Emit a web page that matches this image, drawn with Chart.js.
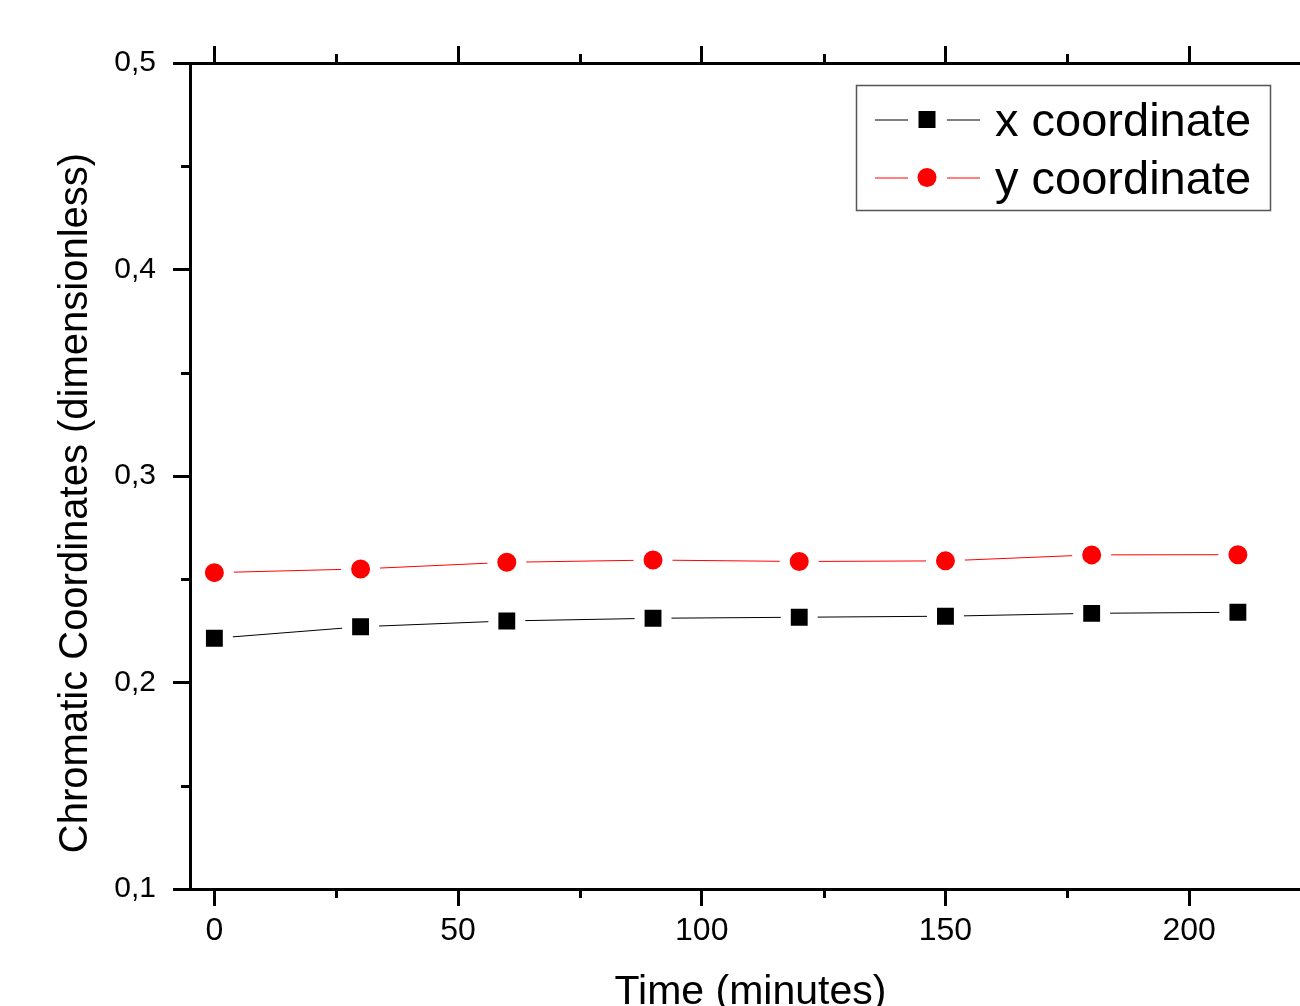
<!DOCTYPE html>
<html>
<head>
<meta charset="utf-8">
<script src="https://cdn.jsdelivr.net/npm/chart.js@4.4.1/dist/chart.umd.min.js"></script>
<style>
    html, body { margin: 0; padding: 0; background: #fff; overflow: hidden; }
    #wrap { width: 1330px; height: 1050px; }
</style>
</head>
<body>
<div id="wrap"><canvas id="chromaChart" width="1330" height="1050"></canvas></div>
<script>
// time in minutes
const times = [0, 30, 60, 90, 120, 150, 180, 210];
const xCoord = [0.2214, 0.2270, 0.2298, 0.2311, 0.2316, 0.2321, 0.2335, 0.2340];
const yCoord = [0.2532, 0.2550, 0.2582, 0.2593, 0.2586, 0.2589, 0.2618, 0.2619];

const seriesLabels = ["x coordinate", "y coordinate"];
const xTitle = "Time (minutes)";
const yTitle = "Chromatic Coordinates (dimensionless)";

const xMinorTicks = [25, 75, 125, 175];
const yMinorTicks = [0.15, 0.25, 0.35, 0.45];

const FONT = "'Liberation Sans', Arial, sans-serif";
Chart.defaults.font.family = FONT;
Chart.defaults.color = '#000';

function toPoints(values) {
    return times.map((t, i) => ({ x: t, y: values[i] }));
}

// short ticks between the labelled ones
const minorTicks = {
    id: 'minorTicks',
    afterDraw(chart) {
        const ctx = chart.ctx;
        const area = chart.chartArea;
        const xs = chart.scales.x;
        const ys = chart.scales.y;
        ctx.save();
        ctx.strokeStyle = '#000';
        ctx.lineWidth = 3;
        ctx.beginPath();
        xMinorTicks.forEach(v => {
            const px = Math.round(xs.getPixelForValue(v)) + 0.5;
            ctx.moveTo(px, area.bottom);
            ctx.lineTo(px, area.bottom + 9);
            ctx.moveTo(px, area.top);
            ctx.lineTo(px, area.top - 9);
        });
        yMinorTicks.forEach(v => {
            const py = Math.round(ys.getPixelForValue(v)) + 0.5;
            ctx.moveTo(area.left - 9, py);
            ctx.lineTo(area.left, py);
        });
        ctx.stroke();
        ctx.restore();
    }
};

// rotated y title, sitting a bit lower than the axis centre like the original
const yAxisTitle = {
    id: 'yAxisTitle',
    afterDraw(chart) {
        const ctx = chart.ctx;
        ctx.save();
        ctx.translate(76, 503);
        ctx.rotate(-Math.PI / 2);
        ctx.font = '40px ' + FONT;
        ctx.fillStyle = '#000';
        ctx.textAlign = 'center';
        ctx.textBaseline = 'middle';
        ctx.fillText(yTitle, 0, 0);
        ctx.restore();
    }
};

// boxed legend: line - marker - line, then the label
const boxLegend = {
    id: 'boxLegend',
    afterDraw(chart) {
        const ctx = chart.ctx;
        ctx.save();
        ctx.fillStyle = '#fff';
        ctx.fillRect(856, 85, 414, 125);
        ctx.strokeStyle = '#555';
        ctx.lineWidth = 1.5;
        ctx.strokeRect(856.5, 85.5, 414, 125);
        const rows = [119.5, 177.5];
        chart.data.datasets.forEach((ds, i) => {
            const y = rows[i];
            ctx.strokeStyle = ds.borderColor;
            ctx.lineWidth = 1;
            ctx.beginPath();
            ctx.moveTo(875, y + 0.5);
            ctx.lineTo(908, y + 0.5);
            ctx.moveTo(947, y + 0.5);
            ctx.lineTo(980, y + 0.5);
            ctx.stroke();
            ctx.fillStyle = ds.pointBackgroundColor;
            if (ds.pointStyle === 'rect') {
                ctx.fillRect(927 - 8.5, y - 8.5, 17, 17);
            } else {
                ctx.beginPath();
                ctx.arc(927, y, 9.5, 0, Math.PI * 2);
                ctx.fill();
            }
            ctx.fillStyle = '#000';
            ctx.font = '47px ' + FONT;
            ctx.textAlign = 'left';
            ctx.textBaseline = 'alphabetic';
            ctx.fillText(ds.label, 995, y + 16);
        });
        ctx.restore();
    }
};

const ctx = document.getElementById('chromaChart').getContext('2d');
new Chart(ctx, {
    type: 'line',
    data: {
        datasets: [{
            label: seriesLabels[0],
            data: toPoints(xCoord),
            borderColor: '#000',
            borderWidth: 1,
            pointStyle: 'rect',
            pointRadius: 19,   // white rim leaves a small gap to the line
            pointBackgroundColor: '#000',
            pointBorderColor: '#fff',
            pointBorderWidth: 10
        },
        {
            label: seriesLabels[1],
            data: toPoints(yCoord),
            borderColor: '#ff0000',
            borderWidth: 1,
            pointStyle: 'circle',
            pointRadius: 14.5,
            pointBackgroundColor: '#ff0000',
            pointBorderColor: '#fff',
            pointBorderWidth: 10
        }]
    },
    options: {
        responsive: false,
        animation: false,
        devicePixelRatio: 1,
        layout: { autoPadding: false, padding: { left: 0, top: 0, right: 19, bottom: 0 } },
        plugins: {
            legend: { display: false },
            tooltip: { enabled: false }
        },
        scales: {
            x: {
                type: 'linear',
                position: 'bottom',
                min: -5,
                max: 225,
                border: { display: true, width: 3, color: '#000' },
                grid: { drawOnChartArea: false, tickLength: 17, tickWidth: 3, tickColor: '#000' },
                ticks: { stepSize: 50, includeBounds: false, padding: 6, font: { size: 32 } },
                title: {
                    display: true,
                    text: xTitle,
                    font: { size: 41 },
                    padding: { top: 0, bottom: 33 }
                },
                afterFit: scale => { scale.height = 161; }
            },
            x2: {
                type: 'linear',
                position: 'top',
                min: -5,
                max: 225,
                border: { display: true, width: 3, color: '#000' },
                grid: { drawOnChartArea: false, tickLength: 17, tickWidth: 3, tickColor: '#000' },
                ticks: { stepSize: 50, includeBounds: false, display: false },
                afterFit: scale => { scale.height = 63; }
            },
            y: {
                type: 'linear',
                position: 'left',
                min: 0.1,
                max: 0.5,
                border: { display: true, width: 3, color: '#000' },
                grid: { drawOnChartArea: false, tickLength: 17, tickWidth: 3, tickColor: '#000' },
                ticks: {
                    stepSize: 0.1,
                    padding: 17,
                    font: { size: 30 },
                    callback: v => v.toFixed(1).replace('.', ',')
                },
                afterFit: scale => { scale.width = 190; }
            }
        }
    },
    plugins: [minorTicks, yAxisTitle, boxLegend]
});
</script>
</body>
</html>
